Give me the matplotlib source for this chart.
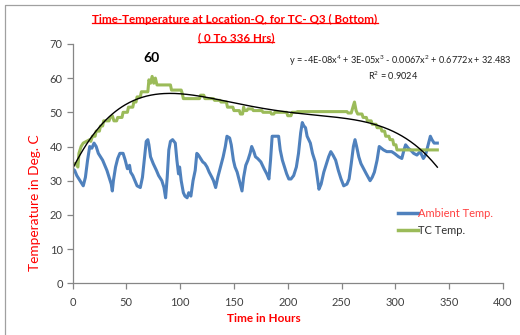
import numpy as np
import matplotlib
matplotlib.use('Agg')
import matplotlib.pyplot as plt
from matplotlib import font_manager
from matplotlib.lines import Line2D

# %%
# data
amb_hours = [0, 2, 4, 7, 10, 12, 14, 16, 18, 20, 22, 24, 26, 28, 30, 32, 34, 36, 37, 38,
             40, 42, 44, 47, 49, 51, 53, 54, 56, 58, 60, 63, 65, 67, 68.5, 70, 71, 72.5, 75, 78,
             80, 83, 85, 86.5, 88, 89.5, 91, 93, 95.5, 97, 98.5, 99.5, 101, 103, 104.5, 106.5, 108, 110,
             112, 114, 115.5, 117, 119, 121, 123, 125, 127, 129.5, 131, 133, 135, 137.5, 140, 142,
             143.5, 146, 147.5, 149.5, 151, 153, 155, 157.5, 159, 161, 163, 165, 166.5, 168.5, 170,
             172, 175, 178, 180.5, 182.5, 184, 185.5, 188, 191.5, 193, 195, 197, 199, 201, 203,
             205.5, 208, 210, 212, 213.5, 215, 216.5, 218, 221, 223, 225.5, 227.5, 229, 231, 233.5,
             236, 238, 240, 242, 244.5, 247, 249.5, 252, 255, 257, 259, 261, 262.5, 264, 266, 268,
             270.5, 273, 276.5, 278.5, 280.5, 283, 285, 287, 289, 292, 296.5, 299, 303, 306, 308,
             309.5, 312, 314, 317, 320, 323, 326, 328, 330, 332.5, 334, 336, 339]
amb_temp = [33.5, 33, 31.5, 30, 28.5, 31, 36, 40, 39.5, 41, 40, 38, 37, 36, 34.5, 33, 31, 29, 27, 30,
            34, 36.5, 38, 38, 36, 33.5, 34.5, 32.5, 31.5, 30, 28.5, 28, 31, 37, 41.5, 42, 40.5, 37, 35, 33,
            31.5, 30, 28, 25, 31, 39, 41.5, 42, 41, 36, 32, 34, 30, 26.5, 25.5, 25, 26.5, 25.5,
            30, 33, 38, 37.5, 36.5, 35.5, 35, 34, 32.5, 31, 30, 28, 31, 34, 37, 40,
            43, 42.5, 40.5, 36, 34, 32.5, 30, 27, 31, 34.5, 36, 38, 40, 38.5, 37,
            36.5, 35.5, 33.5, 32, 30.5, 36, 43, 43, 43, 39, 36, 34, 32, 30.5, 30.5,
            31.5, 34, 38, 44, 47, 46, 45.5, 43, 41, 38, 35.5, 31, 27.5, 29, 32.5,
            35, 37, 38.5, 37.5, 36, 33, 30.5, 28.5, 29, 30.5, 35, 40, 42, 40, 37, 35,
            33.5, 32, 30, 31, 32.5, 36, 40, 39.5, 39, 38.5, 38.5, 38, 37, 36.5, 39,
            40.5, 39.5, 39, 38, 37.5, 38.5, 36.5, 37.5, 40, 43, 42, 41, 41]

tc_hours = [0, 3, 5, 6, 8, 10, 13, 16, 17, 18.5, 21, 22, 25, 26, 28, 29, 34, 35, 37, 38.5,
            41, 42, 46, 47, 51, 52, 56, 57, 59, 60, 63, 64, 70, 71, 72.5, 74, 75.5, 77, 78.5, 91,
            92, 101, 102, 103, 118, 119, 122, 123, 131, 132, 137, 138, 143, 144, 149, 150, 155,
            156, 158, 159, 160, 162, 163, 167, 168, 176, 177, 184, 185, 187, 188, 199, 200, 203,
            204, 208, 209, 255, 256, 259, 261, 262, 263.5, 265, 269, 270, 273, 274, 277.5, 278.5,
            282, 283, 286.5, 287.5, 290, 291, 294, 295, 297.5, 298.5, 300.5, 301.5, 339]
tc_temp = [35, 35, 34, 38, 40, 41, 41.5, 42, 41.5, 43, 43, 44.5, 44.5, 46, 46, 47.5, 47.5, 48.5, 49, 47.5,
           47.5, 48.5, 48.5, 50, 50, 51.5, 51.5, 53, 53, 54.5, 54.5, 56, 56, 59.5, 58.5, 60.5, 58.5, 60, 58, 58,
           56.5, 56.5, 55.5, 54, 54, 55, 55, 54, 54, 53.5, 53.5, 53, 53, 51.5, 51.5, 50.5, 50.5,
           49.5, 49.5, 51.5, 50.5, 50.5, 51, 51, 50.5, 50.5, 50, 50, 49.5, 49.5, 50, 50, 49, 49,
           50, 50, 50.2, 50.2, 49.8, 49.8, 52, 53, 50.5, 49.5, 49.5, 48.5, 48.5, 47.5, 47.5, 46.5,
           46.5, 45.5, 45.5, 44.5, 44.5, 43, 43, 42, 42, 40.5, 40.5, 39, 39]

x_ticks = [0, 50, 100, 150, 200, 250, 300, 350, 400]
y_ticks = [0, 10, 20, 30, 40, 50, 60, 70]

# %%
def pick_font(names):
    have = set(f.name for f in font_manager.fontManager.ttflist)
    for n in names:
        if n in have:
            return n
    return 'DejaVu Sans'

font = pick_font(['Lato', 'Liberation Sans'])
plt.rcParams['font.family'] = [font, 'DejaVu Sans']
plt.rcParams['mathtext.fontset'] = 'custom'
plt.rcParams['mathtext.rm'] = font

blue = '#4F81BD'
green = '#9BBB59'
red = '#FF0000'
axis_grey = '#868686'
W, H = 520, 335
ax_w = 503 - 72.5
ax_h = 283.3 - 43.9

fig = plt.figure(figsize=(5.2, 3.35), dpi=100)
ax = fig.add_axes([72.5 / W, 1 - 283.3 / H, ax_w / W, ax_h / H])

ax.plot(amb_hours, amb_temp, color=blue, lw=2.2, label='Ambient Temp.', solid_joinstyle='round')
ax.plot(tc_hours, tc_temp, color=green, lw=2.2, label='TC Temp.', solid_joinstyle='round')

# 4th order trendline, fitted the way excel does it (hourly values)
hrs = np.arange(0, 340)
tc_hourly = np.interp(hrs, tc_hours, tc_temp)
coef = np.polyfit(hrs, tc_hourly, 4)
ax.plot(hrs, np.polyval(coef, hrs), color='black', lw=1.0)

ax.set_xlim(0, 400)
ax.set_ylim(0, 70)
ax.set_xticks(x_ticks)
ax.set_yticks(y_ticks)
for s in ['top', 'right']:
    ax.spines[s].set_visible(False)
for s in ['left', 'bottom']:
    ax.spines[s].set_color(axis_grey)
    ax.spines[s].set_linewidth(0.9)
ax.tick_params(axis='both', direction='out', length=4, width=0.9, color=axis_grey,
               labelsize=8, labelcolor='#404040', pad=3)
ax.tick_params(axis='x', pad=6)

# axis titles placed where the original has them
fig.text(264 / W, 1 - 318 / H, 'Time in Hours', color=red, fontsize=8.5,
         fontweight='bold', ha='center', va='center')
fig.text(35.5 / W, 1 - 202.5 / H, 'Temperature in Deg. C', color=red, fontsize=9.8,
         rotation=90, ha='center', va='center')

ax.text(73.6, 65.9, '60', fontsize=10, fontweight='bold', ha='center', va='center')

eq = 'y = -4E-08x$^4$ + 3E-05x$^3$ - 0.0067x$^2$ + 0.6772x + 32.483'
fig.text(400 / W, 1 - 61 / H, eq, fontsize=6.6, ha='center', va='center', color='#202020')
fig.text(393 / W, 1 - 76 / H, 'R$^2$ = 0.9024', fontsize=6.6, ha='center', va='center', color='#202020')

leg = ax.legend(loc='upper left', bbox_to_anchor=(392 / W, 1 - 202 / H),
                bbox_transform=fig.transFigure, frameon=False, fontsize=8,
                handlelength=1.8, handletextpad=0.05, labelspacing=0.55, borderpad=0)
leg.get_texts()[0].set_color('#FF4040')
leg.get_texts()[1].set_color('#303030')
for h in leg.legend_handles:
    h.set_linewidth(2.5)

t1 = fig.text(235 / W, 1 - 19 / H, 'Time-Temperature at Location-Q, for TC- Q3 ( Bottom)',
              color=red, fontsize=8.4, fontweight='bold', ha='center', va='center')
t2 = fig.text(236 / W, 1 - 38 / H, '( 0 To 336 Hrs)',
              color=red, fontsize=8.4, fontweight='bold', ha='center', va='center')

# underline the title lines
fig.canvas.draw()
r = fig.canvas.get_renderer()
for t in [t1, t2]:
    bb = t.get_window_extent(r).transformed(fig.transFigure.inverted())
    fig.add_artist(Line2D([bb.x0, bb.x1], [bb.y0 + 0.004, bb.y0 + 0.004],
                          transform=fig.transFigure, color=red, lw=0.9))

# outer chart border
fig.add_artist(Line2D([5 / W, 5 / W, 1], [0, 1 - 5 / H, 1 - 5 / H],
                      transform=fig.transFigure, color='#A0A0A0', lw=0.9))

fig.savefig('out.png', dpi=100)
